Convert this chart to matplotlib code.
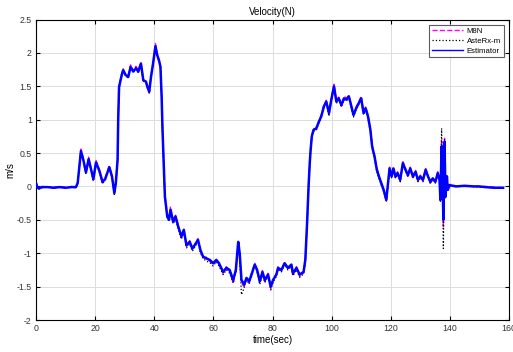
import matplotlib
matplotlib.use("Agg")
import matplotlib.pyplot as plt

plt.rcParams['font.family'] = ['Liberation Sans', 'DejaVu Sans']

time = [0, 0.5, 1, 2, 4, 6, 8, 10, 12, 13.5,
        14.1, 15.2, 16.0, 16.9, 17.8, 18.6, 19.4, 20.3, 21.4, 22.5,
        23.4, 24.8, 25.7, 26.5, 27.0, 27.6, 27.8, 28.1, 29.0, 29.5,
        30.3, 31.2, 32.0, 32.9, 33.8, 34.6, 35.5, 36.3, 37.2, 37.7,
        38.3, 38.9, 39.6, 40.4, 41.0, 41.7, 42.1, 42.5, 42.8, 43.2,
        43.6, 44.4, 45.0, 45.5, 46.4, 47.2, 48.1, 49.2, 50.0, 50.9,
        52.0, 52.9, 54.1, 54.8, 55.6, 56.5, 57.7, 58.8, 59.9, 61.0,
        61.9, 63.3, 64.4, 65.5, 66.7, 67.6, 68.4, 68.9, 69.5, 70.4,
        71.2, 72.1, 72.9, 74.0, 74.8, 75.7, 76.6, 77.4, 78.5, 79.4,
        80.2, 81.3, 81.9, 83.0, 84.1, 85.2, 86.4, 86.9, 88.1, 89.2,
        90.5, 91.1, 91.7, 92.2, 92.6, 92.9, 93.3, 93.9, 94.8, 95.7,
        96.5, 97.4, 98.2, 99.1, 99.9, 100.8, 101.6, 102.4, 103.3, 104.2,
        105.0, 105.8, 106.4, 107.4, 108.3, 109.2, 110.0, 110.8, 111.5, 112.3,
        113.1, 113.7, 114.5, 115.3, 116.0, 116.8, 117.6, 118.5, 119.0, 119.6,
        120.3, 120.9, 121.6, 122.3, 123.2, 124.1, 125.0, 125.8, 126.6, 127.5,
        128.4, 129.2, 130.0, 130.9, 131.8, 132.6, 133.4, 134.2, 135.1, 135.9,
        136.5, 136.8, 137.2, 137.6, 137.8, 138.2, 138.5, 139.0, 139.3, 139.9,
        142, 145, 148, 150, 152, 155, 158]

estimator = [0.05, -0.02, -0.03, -0.01, -0.01, -0.02, -0.01, -0.02, -0.01, -0.01,
             0.05, 0.53, 0.40, 0.21, 0.41, 0.26, 0.11, 0.36, 0.24, 0.07,
             0.11, 0.29, 0.15, -0.10, 0.05, 0.40, 0.99, 1.49, 1.67, 1.74,
             1.67, 1.64, 1.79, 1.72, 1.77, 1.72, 1.84, 1.59, 1.57, 1.49,
             1.42, 1.64, 1.84, 2.10, 1.97, 1.87, 1.79, 1.34, 0.84, 0.35,
             -0.15, -0.45, -0.50, -0.35, -0.53, -0.45, -0.60, -0.75, -0.65, -0.88,
             -0.83, -0.93, -0.85, -0.80, -0.95, -1.05, -1.08, -1.10, -1.15, -1.10,
             -1.15, -1.28, -1.22, -1.25, -1.40, -1.25, -0.83, -1.00, -1.40, -1.47,
             -1.37, -1.42, -1.32, -1.17, -1.25, -1.42, -1.28, -1.40, -1.32, -1.50,
             -1.40, -1.32, -1.22, -1.25, -1.15, -1.22, -1.17, -1.30, -1.22, -1.32,
             -1.28, -1.10, -0.55, 0.00, 0.35, 0.55, 0.75, 0.85, 0.87, 0.97,
             1.05, 1.20, 1.27, 1.10, 1.30, 1.50, 1.27, 1.32, 1.22, 1.32,
             1.30, 1.35, 1.25, 1.07, 1.17, 1.25, 1.32, 1.10, 1.17, 1.05,
             0.85, 0.60, 0.45, 0.25, 0.15, 0.05, -0.05, -0.20, 0.02, 0.27,
             0.15, 0.27, 0.15, 0.20, 0.10, 0.35, 0.25, 0.17, 0.27, 0.15,
             0.22, 0.10, 0.15, 0.10, 0.25, 0.15, 0.07, 0.12, 0.07, 0.20,
             0.10, -0.20, 0.60, -0.05, -0.50, 0.67, -0.15, 0.15, -0.05, 0.02,
             0.00, 0.01, 0.00, 0.00, -0.01, -0.02, -0.02]

m8n = [0.07, -0.01, -0.02, 0.00, -0.01, -0.01, 0.00, -0.01, 0.00, -0.01,
       0.06, 0.56, 0.42, 0.19, 0.44, 0.28, 0.09, 0.39, 0.25, 0.05,
       0.13, 0.31, 0.16, -0.12, 0.04, 0.42, 1.00, 1.50, 1.69, 1.76,
       1.68, 1.66, 1.82, 1.73, 1.80, 1.74, 1.86, 1.60, 1.55, 1.47,
       1.40, 1.66, 1.86, 2.14, 1.99, 1.89, 1.80, 1.38, 0.88, 0.38,
       -0.12, -0.43, -0.48, -0.30, -0.51, -0.43, -0.58, -0.77, -0.63, -0.90,
       -0.81, -0.95, -0.83, -0.78, -0.97, -1.07, -1.06, -1.12, -1.17, -1.12,
       -1.17, -1.30, -1.20, -1.27, -1.45, -1.27, -0.85, -1.03, -1.45, -1.50,
       -1.39, -1.45, -1.30, -1.15, -1.27, -1.45, -1.26, -1.43, -1.30, -1.53,
       -1.42, -1.30, -1.20, -1.27, -1.13, -1.24, -1.19, -1.33, -1.20, -1.35,
       -1.30, -1.12, -0.57, 0.00, 0.36, 0.57, 0.76, 0.86, 0.85, 0.99,
       1.07, 1.22, 1.29, 1.08, 1.33, 1.53, 1.30, 1.34, 1.20, 1.35,
       1.32, 1.37, 1.27, 1.05, 1.19, 1.27, 1.35, 1.12, 1.19, 1.07,
       0.87, 0.62, 0.47, 0.27, 0.17, 0.03, -0.07, -0.23, 0.02, 0.29,
       0.17, 0.29, 0.13, 0.22, 0.08, 0.37, 0.27, 0.15, 0.29, 0.13,
       0.24, 0.08, 0.17, 0.08, 0.27, 0.17, 0.05, 0.13, 0.05, 0.22,
       0.12, -0.22, 0.70, -0.07, -0.60, 0.72, -0.17, 0.16, -0.06, 0.03,
       0.01, 0.00, 0.01, 0.00, 0.00, -0.01, -0.02]

asterx = [0.08, -0.05, -0.04, -0.02, -0.01, -0.02, -0.01, -0.02, -0.01, -0.02,
          0.04, 0.52, 0.38, 0.18, 0.40, 0.24, 0.08, 0.35, 0.22, 0.04,
          0.10, 0.28, 0.13, -0.12, 0.04, 0.38, 0.97, 1.47, 1.66, 1.76,
          1.66, 1.62, 1.81, 1.71, 1.79, 1.70, 1.85, 1.58, 1.56, 1.48,
          1.40, 1.63, 1.83, 2.12, 1.96, 1.86, 1.77, 1.32, 0.82, 0.33,
          -0.17, -0.48, -0.52, -0.37, -0.56, -0.48, -0.64, -0.79, -0.68, -0.92,
          -0.86, -0.97, -0.88, -0.83, -0.99, -1.08, -1.12, -1.14, -1.19, -1.13,
          -1.19, -1.32, -1.25, -1.30, -1.45, -1.28, -0.84, -1.05, -1.62, -1.52,
          -1.40, -1.46, -1.35, -1.18, -1.28, -1.47, -1.31, -1.44, -1.35, -1.55,
          -1.43, -1.35, -1.24, -1.28, -1.17, -1.25, -1.20, -1.34, -1.25, -1.36,
          -1.31, -1.14, -0.58, -0.03, 0.33, 0.53, 0.73, 0.83, 0.84, 0.95,
          1.03, 1.18, 1.25, 1.05, 1.28, 1.49, 1.24, 1.30, 1.19, 1.30,
          1.28, 1.33, 1.22, 1.04, 1.15, 1.23, 1.30, 1.07, 1.14, 1.02,
          0.82, 0.57, 0.42, 0.22, 0.12, 0.02, -0.08, -0.22, 0.00, 0.25,
          0.13, 0.25, 0.12, 0.18, 0.07, 0.33, 0.23, 0.14, 0.25, 0.12,
          0.20, 0.07, 0.13, 0.07, 0.23, 0.13, 0.04, 0.10, 0.05, 0.18,
          0.08, -0.22, 0.87, -0.07, -0.93, 0.70, -0.18, 0.14, -0.06, 0.01,
          0.00, 0.00, 0.00, -0.01, -0.01, -0.02, -0.03]

xticks = [0, 20, 40, 60, 80, 100, 120, 140, 160]
yticks = [-2, -1.5, -1, -0.5, 0, 0.5, 1, 1.5, 2, 2.5]
ytick_labels = ['-2', '-1.5', '-1', '-0.5', '0', '0.5', '1', '1.5', '2', '2.5']

fig = plt.figure(figsize=(5.13, 3.52), dpi=100)
ax = fig.add_axes([36/513, 1-320/352, (509-36)/513, (320-19.5)/352])

ax.plot(time, m8n, color='#ff00ff', linestyle='--', lw=1.0, label='M8N', zorder=3)
ax.plot(time, asterx, color='black', linestyle=':', lw=0.9, label='AsteRx-m', zorder=3)
ax.plot(time, estimator, color='#0000ff', linestyle='-', lw=1.8, label='Estimator', zorder=4)

ax.set_xlim(0, 160)
ax.set_ylim(-2, 2.5)
ax.set_xticks(xticks)
ax.set_yticks(yticks)
ax.set_yticklabels(ytick_labels)
ax.grid(True, color='#dcdcdc', lw=0.7)
ax.set_axisbelow(True)
ax.tick_params(direction='in', top=True, right=True, labelsize=6.3,
               labelcolor='#333333', length=3, width=0.8, pad=3)
for s in ax.spines.values():
    s.set_linewidth(0.8)
    s.set_color('black')

ax.set_title('Velocity(N)', fontsize=7, pad=3)
ax.set_xlabel('time(sec)', fontsize=7, labelpad=1)
ax.set_ylabel('m/s', fontsize=7, labelpad=1)

leg = ax.legend(loc='upper right', fontsize=5.6, frameon=True, fancybox=False,
                borderaxespad=0.7, handlelength=4.0, handletextpad=0.5,
                labelspacing=0.3, borderpad=0.35)
leg.get_frame().set_edgecolor('#333333')
leg.get_frame().set_linewidth(0.8)
leg.get_lines()[2].set_linewidth(1.0)

fig.savefig('out.png', dpi=100)
